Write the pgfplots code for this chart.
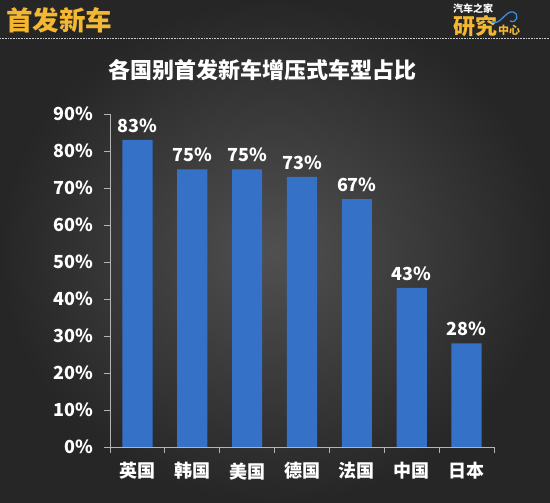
\documentclass[border=0pt]{standalone}
\usepackage{fontspec}
\newfontfamily\cjk{Noto Sans CJK SC}
\usepackage{pgfplots}
\pgfplotsset{compat=1.18}
\definecolor{bgin}{HTML}{505050}
\definecolor{bgout}{HTML}{262626}
\definecolor{barblue}{HTML}{3571C6}
\definecolor{axisgray}{HTML}{B4B4B4}
\definecolor{titleyellow}{HTML}{F3B731}
\definecolor{logoblue}{HTML}{3A8FE0}
\begin{document}
\begin{tikzpicture}
\shade[inner color=bgin, outer color=bgout] (0,0) rectangle (550bp,503bp);
% header
\node[anchor=west, text=titleyellow, font={\cjk\bfseries\fontsize{26.5bp}{30bp}\selectfont}, inner sep=0pt] at (6bp,483bp) {首发新车};
\draw[axisgray!70, densely dotted, line width=0.6pt] (0,465bp) -- (550bp,465bp);
\node[text=white, font={\cjk\bfseries\fontsize{22bp}{25bp}\selectfont}, inner sep=0pt] at (262bp,433bp) {各国别首发新车增压式车型占比};
% logo
\node[anchor=west, text=white, font={\cjk\bfseries\fontsize{10bp}{12bp}\selectfont}, inner sep=0pt] at (453bp,494bp) {汽车之家};
\node[anchor=west, text=titleyellow, font={\cjk\bfseries\fontsize{22bp}{24bp}\selectfont}, inner sep=0pt] at (453bp,477bp) {研究};
\node[anchor=west, text=titleyellow, font={\cjk\bfseries\fontsize{11bp}{13bp}\selectfont}, inner sep=0pt] at (498bp,473bp) {中心};
\draw[logoblue, line width=1.3pt] (492bp,481bp) .. controls (500bp,477bp) and (506bp,493bp) .. (513bp,491bp) .. controls (520bp,489bp) and (517bp,479bp) .. (510bp,482bp);
\begin{axis}[
  at={(110bp,56bp)}, anchor=south west,
  scale only axis, width=384bp, height=333bp,
  xmin=-0.5, xmax=6.5, ymin=0, ymax=90,
  axis x line=bottom, axis y line=left,
  axis line style={-, draw=axisgray, line width=0.9pt},
  ytick={0,10,...,90},
  yticklabel={\pgfmathprintnumber{\tick}\%},
  xtick={-0.5,0.5,...,6.5},
  x tick label as interval,
  xticklabels={英国,韩国,美国,德国,法国,中国,日本},
  xtick pos=bottom, ytick pos=left,
  tick align=outside,
  major tick length=6bp,
  every tick/.style={draw=axisgray, line width=0.9pt},
  /pgf/number format/assume math mode=true,
  ticklabel style={text=white, font={\cjk\bfseries\fontsize{18bp}{20bp}\selectfont}},
  yticklabel style={xshift=-7bp},
  xticklabel style={yshift=-6bp},
  clip=false,
]
\addplot[ybar, bar width=0.55, fill=barblue, draw=none,
  nodes near coords={\pgfmathprintnumber{\pgfplotspointmeta}\%},
  nodes near coords style={text=white, font={\cjk\bfseries\fontsize{18bp}{20bp}\selectfont}, /pgf/number format/assume math mode=true, anchor=south, yshift=4bp}]
  coordinates {(0,83) (1,75) (2,75) (3,73) (4,67) (5,43) (6,28)};
\end{axis}
\pgfresetboundingbox
\path (0,0) rectangle (550bp,503bp);
\end{tikzpicture}
\end{document}
